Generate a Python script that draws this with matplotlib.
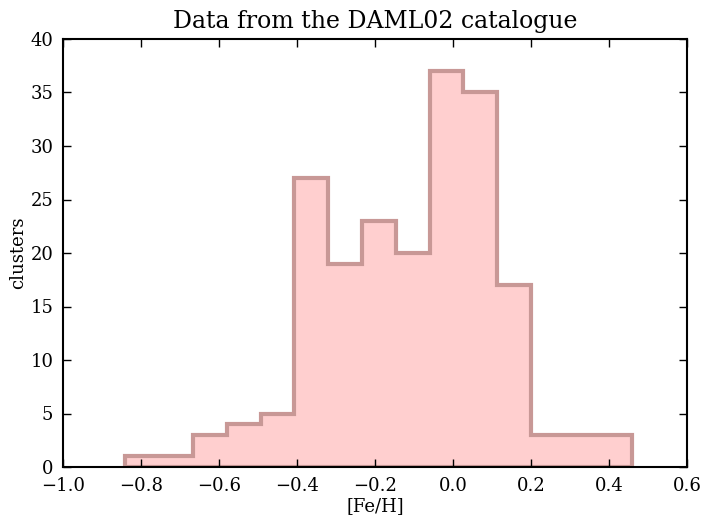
import numpy as np
import matplotlib.pyplot as plt

# Histogram of [Fe/H] values
bin_edges = np.linspace(-0.84, 0.46, 16)
counts = [1, 1, 3, 4, 5, 27, 19, 23, 20, 37, 35, 17, 3, 3, 3]

plt.rcParams['font.family'] = 'DejaVu Serif'
plt.rcParams['xtick.direction'] = 'in'
plt.rcParams['ytick.direction'] = 'in'

fig = plt.figure(figsize=(7.03, 5.17), dpi=100)
ax = fig.add_axes([63 / 703, 1 - 467 / 517, 624 / 703, 428 / 517])

centers = 0.5 * (bin_edges[:-1] + bin_edges[1:])
ax.hist(centers, bins=bin_edges, weights=counts, histtype='stepfilled',
        facecolor='#ffcfcf', edgecolor='#c89896', linewidth=3)

ax.set_xlim(-1.0, 0.6)
ax.set_ylim(0, 40)
ax.set_xticks(np.arange(-1.0, 0.61, 0.2))
ax.set_yticks(np.arange(0, 41, 5))
ax.tick_params(top=True, right=True, labelsize=13, length=6, width=1, pad=7)
for s in ax.spines.values():
    s.set_linewidth(1.5)

ax.set_xlabel('[Fe/H]', fontsize=13, labelpad=2)
ax.set_ylabel('clusters', fontsize=13, labelpad=2)
ax.set_title('Data from the DAML02 catalogue', fontsize=17, pad=8)

fig.savefig('out.png', dpi=100)
